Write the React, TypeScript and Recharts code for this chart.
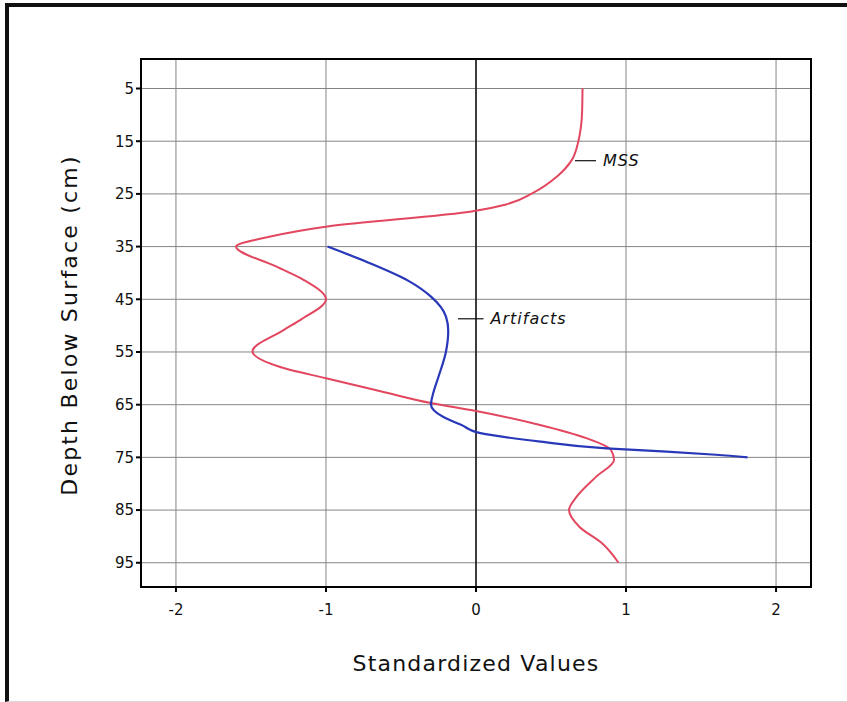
import React from "react";
import {
  CartesianGrid,
  Line,
  LineChart,
  ReferenceArea,
  ReferenceDot,
  ReferenceLine,
  XAxis,
  YAxis,
} from "recharts";

const RED = "#e2475f";
const BLUE = "#2838b8";
const FONT = "DejaVu Sans, sans-serif";

// depth (cm) and standardized value
const MSS_DEPTH = [
  5, 9.6, 12.8, 15.3, 18.5, 21.7, 24.8, 27.0, 28.3, 31.2, 33.1, 35, 38.8, 41.3,
  45, 48.9, 50.8, 54.9, 57.8, 60, 62.5, 64.7, 66.2, 68.8, 71.4, 73.6, 75.5,
  78.7, 82.5, 85, 88.2, 91.3, 95,
];
const MSS_VALUE = [
  0.71, 0.707, 0.697, 0.68, 0.64, 0.54, 0.38, 0.2, -0.02, -0.99, -1.37, -1.6,
  -1.33, -1.15, -1.0, -1.17, -1.28, -1.49, -1.31, -1.0, -0.63, -0.3, 0.0, 0.42,
  0.74, 0.9, 0.92, 0.8, 0.67, 0.62, 0.69, 0.84, 0.95,
];

const ART_DEPTH = [
  35, 38, 41.5, 44.5, 48.3, 51, 54.9, 59.7, 62.8, 65, 67.3, 68.8, 70.4, 72.0,
  73.3, 73.9, 74.5, 75,
];
const ART_VALUE = [
  -0.99, -0.72, -0.45, -0.3, -0.2, -0.185, -0.2, -0.25, -0.285, -0.3, -0.22,
  -0.1, 0.03, 0.43, 0.87, 1.27, 1.6, 1.81,
];

const DEPTH_TICKS = [5, 15, 25, 35, 45, 55, 65, 75, 85, 95];
const VALUE_TICKS = [-2, -1, 0, 1, 2];
const X_DOMAIN: [number, number] = [-2.233, 2.233];
const Y_DOMAIN: [number, number] = [-0.6, 99.6];

// callouts: leader line from x1 to x2 at depth, text after x2
const NOTES = [
  { text: "MSS", x1: 0.66, x2: 0.8, depth: 18.7 },
  { text: "Artifacts", x1: -0.12, x2: 0.05, depth: 48.7 },
];

const mssData = MSS_DEPTH.map((depth, i) => ({ depth, value: MSS_VALUE[i] }));
const artData = ART_DEPTH.map((depth, i) => ({ depth, value: ART_VALUE[i] }));

const tickStyle = { fontSize: 15, fill: "#111", fontFamily: FONT };

export default function App() {
  return (
    <div
      style={{
        position: "absolute",
        left: 0,
        top: 0,
        width: 847,
        height: 702,
        background: "#fff",
      }}
    >
      <div
        style={{
          position: "absolute",
          left: 5,
          top: 3,
          width: 842,
          height: 694,
          borderTop: "4px solid #111",
          borderLeft: "4px solid #111",
          borderBottom: "1px solid #d8d8d8",
        }}
      />
      <LineChart
        width={847}
        height={702}
        layout="vertical"
        margin={{ top: 59, right: 36, left: 81, bottom: 75 }}
        style={{ position: "absolute", left: 0, top: 0 }}
      >
        <CartesianGrid stroke="#858585" strokeWidth={1} />
        <XAxis
          type="number"
          domain={X_DOMAIN}
          ticks={VALUE_TICKS}
          allowDataOverflow
          height={40}
          stroke="#000"
          strokeWidth={2}
          tickSize={5}
          tickMargin={12}
          fontSize={15}
          tick={tickStyle}
          label={() => (
            <text
              x={476}
              y={671}
              textAnchor="middle"
              fontSize={22}
              letterSpacing={1.2}
              fontFamily={FONT}
              fill="#111"
            >
              Standardized Values
            </text>
          )}
        />
        <YAxis
          type="number"
          dataKey="depth"
          domain={Y_DOMAIN}
          ticks={DEPTH_TICKS}
          allowDataOverflow
          width={60}
          stroke="#000"
          strokeWidth={2}
          tickSize={5}
          fontSize={15}
          tick={tickStyle}
          label={() => (
            <text
              x={71}
              y={325}
              transform="rotate(-90, 71, 325)"
              textAnchor="middle"
              dominantBaseline="middle"
              fontSize={22}
              letterSpacing={2.2}
              fontFamily={FONT}
              fill="#111"
            >
              Depth Below Surface (cm)
            </text>
          )}
        />
        <ReferenceLine x={0} stroke="#111" strokeWidth={1.5} />
        <ReferenceArea
          x1={X_DOMAIN[0]}
          x2={X_DOMAIN[1]}
          y1={Y_DOMAIN[0]}
          y2={Y_DOMAIN[1]}
          fill="none"
          stroke="#000"
          strokeWidth={2}
          fillOpacity={0}
        />
        <Line
          data={mssData}
          dataKey="value"
          type="monotone"
          stroke={RED}
          strokeWidth={2}
          dot={false}
          isAnimationActive={false}
        />
        <Line
          data={artData}
          dataKey="value"
          type="monotone"
          stroke={BLUE}
          strokeWidth={2.2}
          dot={false}
          isAnimationActive={false}
        />
        {NOTES.map((n) => (
          <ReferenceLine
            key={n.text + "-lead"}
            segment={[
              { x: n.x1, y: n.depth },
              { x: n.x2, y: n.depth },
            ]}
            stroke="#111"
            strokeWidth={1.2}
          />
        ))}
        {NOTES.map((n) => (
          <ReferenceDot
            key={n.text}
            x={n.x2}
            y={n.depth}
            r={0}
            fill="none"
            stroke="none"
            label={{
              value: n.text,
              position: "right",
              offset: 7,
              fontSize: 16,
              letterSpacing: 1,
              fontStyle: "italic",
              fill: "#111",
              fontFamily: FONT,
            }}
          />
        ))}
      </LineChart>
    </div>
  );
}
